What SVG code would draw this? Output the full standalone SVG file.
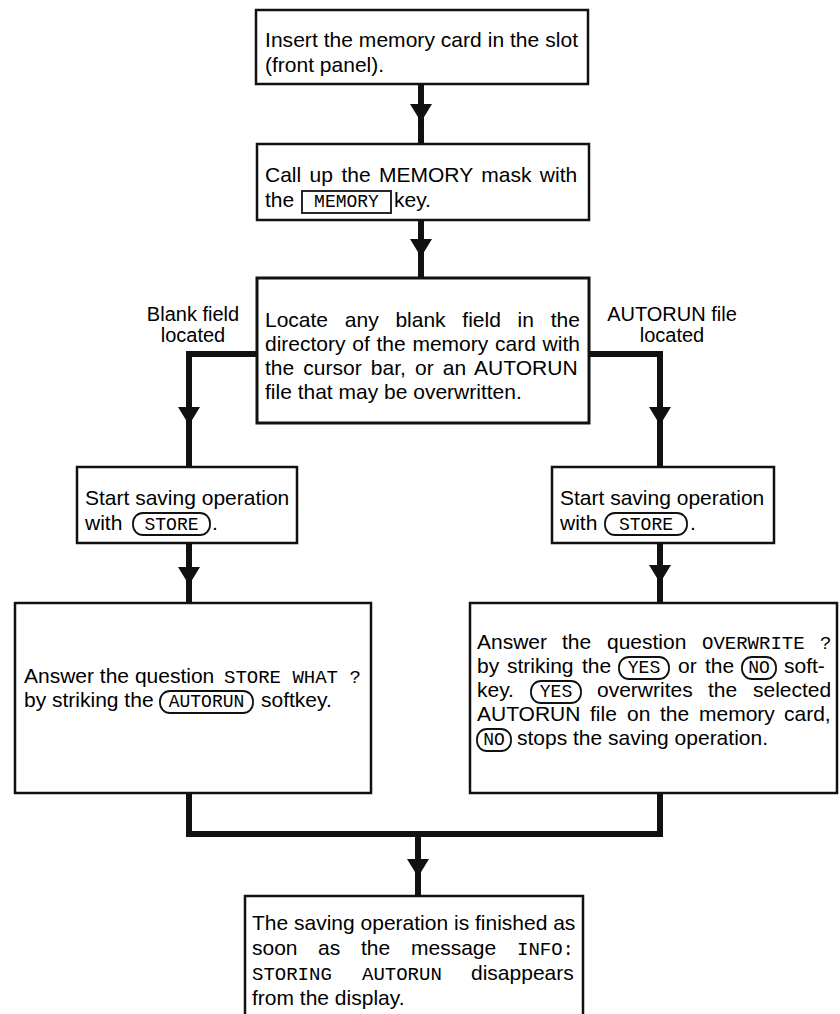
<svg xmlns="http://www.w3.org/2000/svg" width="840" height="1014" viewBox="0 0 840 1014">
<style>
.box{fill:#fff;stroke:#111;stroke-width:2.5}
.t{font-family:"Liberation Sans",Arial,sans-serif;font-size:21px;fill:#000}
.lbl{font-family:"Liberation Sans",Arial,sans-serif;font-size:20px;fill:#000;text-anchor:middle}
.m{font-family:"Liberation Mono","Courier New",monospace;font-size:19px;fill:#000}
.k{font-family:"Liberation Mono","Courier New",monospace;font-size:18px;fill:#000;text-anchor:middle}
.pill{fill:none;stroke:#111;stroke-width:1.8}
.conn{stroke:#111;stroke-width:6;fill:none;stroke-linejoin:miter}
.head{fill:#111}
</style>
<rect width="840" height="1014" fill="#fff"/>
<g id="connectors">
<path class="conn" d="M421 84V144"/><polygon class="head" points="410,104 432,104 421,122"/>
<path class="conn" d="M421 220V278"/><polygon class="head" points="410,239 432,239 421,257"/>
<path class="conn" d="M257 354H189V467"/><polygon class="head" points="178,407 200,407 189,425"/>
<path class="conn" d="M589 354H660V467"/><polygon class="head" points="649,407 671,407 660,425"/>
<path class="conn" d="M189 543V603"/><polygon class="head" points="178,567 200,567 189,585"/>
<path class="conn" d="M660 543V603"/><polygon class="head" points="649,565 671,565 660,583"/>
<path class="conn" d="M189 793V834H660V793"/>
<path class="conn" d="M418 834V896"/><polygon class="head" points="407,859 429,859 418,877"/>
</g>
<g id="label-blank">
<text class="lbl" x="193" y="321">Blank field</text>
<text class="lbl" x="193" y="342">located</text>
</g>
<g id="label-autorun">
<text class="lbl" x="672" y="321">AUTORUN file</text>
<text class="lbl" x="672" y="342">located</text>
</g>
<g id="n1">
<rect class="box" x="256" y="10" width="332" height="74"/>
<text class="t" x="265" y="47" textLength="313" lengthAdjust="spacing">Insert the memory card in the slot</text>
<text class="t" x="265" y="72">(front panel).</text>
</g>
<g id="n2">
<rect class="box" x="257" y="144" width="332" height="76"/>
<text class="t" x="265" y="182" word-spacing="2.6">Call up the MEMORY mask with</text>
<text class="t" x="265" y="207">the</text>
<rect x="302" y="191" width="89" height="22" fill="none" stroke="#111" stroke-width="1.8"/>
<text class="k" x="346.5" y="207">MEMORY</text>
<text class="t" x="394" y="207">key.</text>
</g>
<g id="n3">
<rect class="box" x="257" y="278" width="332" height="145" style="stroke-width:3"/>
<text class="t" x="265" y="327" word-spacing="10.9">Locate any blank field in the</text>
<text class="t" x="265" y="351" word-spacing="0.9">directory of the memory card with</text>
<text class="t" x="265" y="375" word-spacing="3.3">the cursor bar, or an AUTORUN</text>
<text class="t" x="265" y="399">file that may be overwritten.</text>
</g>
<g id="n4">
<rect class="box" x="77" y="467" width="220" height="76"/>
<text class="t" x="85" y="505">Start saving operation</text>
<text class="t" x="85" y="530">with</text>
<rect class="pill" x="133" y="513" width="77" height="22" rx="10"/>
<text class="k" x="171.5" y="530">STORE</text>
<text class="t" x="212" y="530">.</text>
</g>
<g id="n6">
<rect class="box" x="552" y="467" width="222" height="76"/>
<text class="t" x="560" y="505">Start saving operation</text>
<text class="t" x="560" y="530">with</text>
<rect class="pill" x="605" y="513" width="82" height="22" rx="10"/>
<text class="k" x="646" y="530">STORE</text>
<text class="t" x="690" y="530">.</text>
</g>
<g id="n5">
<rect class="box" x="15" y="603" width="356" height="190"/>
<text class="t" x="24" y="683">Answer the question</text>
<text class="m" x="224" y="683">STORE WHAT ?</text>
<text class="t" x="24" y="707">by striking the</text>
<rect class="pill" x="160" y="691" width="93" height="22" rx="10"/>
<text class="k" x="206.5" y="707">AUTORUN</text>
<text class="t" x="261" y="707">softkey.</text>
</g>
<g id="n7">
<rect class="box" x="470" y="603" width="367" height="190"/>
<text class="t" y="649"><tspan x="477">Answer</tspan><tspan x="562">the</tspan><tspan x="607">question</tspan></text>
<text class="m" y="649"><tspan x="702">OVERWRITE</tspan><tspan x="820">?</tspan></text>
<text class="t" y="673"><tspan x="477">by</tspan><tspan x="507">striking</tspan><tspan x="582">the</tspan><tspan x="678">or</tspan><tspan x="705">the</tspan><tspan x="784">soft-</tspan></text>
<rect class="pill" x="619" y="657" width="50" height="22" rx="10"/>
<text class="k" x="644" y="673">YES</text>
<rect class="pill" x="742" y="657" width="34" height="22" rx="10"/>
<text class="k" x="759" y="673">NO</text>
<text class="t" y="697"><tspan x="477">key.</tspan><tspan x="597">overwrites</tspan><tspan x="708">the</tspan><tspan x="753">selected</tspan></text>
<rect class="pill" x="531" y="681" width="50" height="22" rx="10"/>
<text class="k" x="556" y="697">YES</text>
<text class="t" y="721"><tspan x="477">AUTORUN</tspan><tspan x="590">file</tspan><tspan x="627">on</tspan><tspan x="660">the</tspan><tspan x="699">memory</tspan><tspan x="784">card,</tspan></text>
<rect class="pill" x="477" y="729" width="34" height="22" rx="10"/>
<text class="k" x="494" y="745">NO</text>
<text class="t" x="517" y="745">stops the saving operation.</text>
</g>
<g id="n8">
<rect class="box" x="245" y="896" width="338" height="140"/>
<text class="t" x="252" y="930">The saving operation is finished as</text>
<text class="t" y="955"><tspan x="252">soon</tspan><tspan x="318">as</tspan><tspan x="361">the</tspan><tspan x="411">message</tspan></text>
<text class="m" x="517" y="955">INFO:</text>
<text class="m" y="980"><tspan x="252">STORING</tspan><tspan x="362">AUTORUN</tspan></text>
<text class="t" x="471" y="980">disappears</text>
<text class="t" x="252" y="1005">from the display.</text>
</g>
</svg>
